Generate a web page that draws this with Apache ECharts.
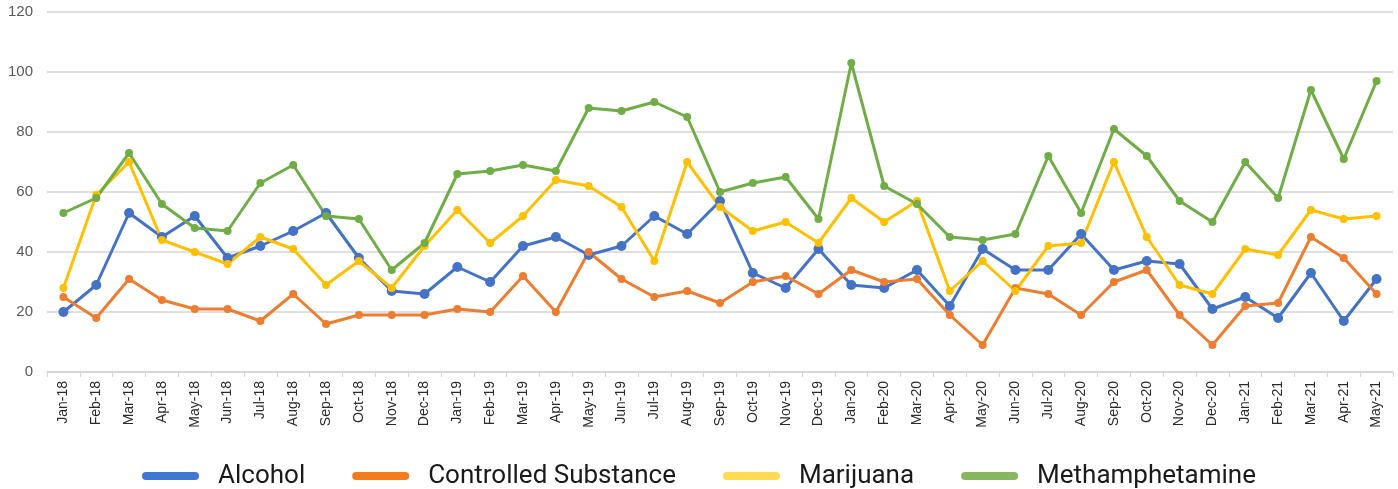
<!DOCTYPE html>
<html>
<head>
<meta charset="utf-8">
<script src="https://cdn.jsdelivr.net/npm/echarts@6/dist/echarts.min.js"></script>
<style>
  html, body { margin: 0; padding: 0; background: #ffffff; }
  #chart { width: 1398px; height: 489px; }
</style>
</head>
<body>
<div id="chart"></div>
<script>
// Monthly counts by substance, Jan 2018 – May 2021
const months = [
  'Jan-18','Feb-18','Mar-18','Apr-18','May-18','Jun-18','Jul-18','Aug-18','Sep-18','Oct-18','Nov-18','Dec-18',
  'Jan-19','Feb-19','Mar-19','Apr-19','May-19','Jun-19','Jul-19','Aug-19','Sep-19','Oct-19','Nov-19','Dec-19',
  'Jan-20','Feb-20','Mar-20','Apr-20','May-20','Jun-20','Jul-20','Aug-20','Sep-20','Oct-20','Nov-20','Dec-20',
  'Jan-21','Feb-21','Mar-21','Apr-21','May-21'
];

const alcohol = [
  20, 29, 53, 45, 52, 38, 42, 47, 53, 38, 27, 26,
  35, 30, 42, 45, 39, 42, 52, 46, 57, 33, 28, 41,
  29, 28, 34, 22, 41, 34, 34, 46, 34, 37, 36, 21,
  25, 18, 33, 17, 31
];

const controlledSubstance = [
  25, 18, 31, 24, 21, 21, 17, 26, 16, 19, 19, 19,
  21, 20, 32, 20, 40, 31, 25, 27, 23, 30, 32, 26,
  34, 30, 31, 19, 9, 28, 26, 19, 30, 34, 19, 9,
  22, 23, 45, 38, 26
];

const marijuana = [
  28, 59, 70, 44, 40, 36, 45, 41, 29, 37, 28, 42,
  54, 43, 52, 64, 62, 55, 37, 70, 55, 47, 50, 43,
  58, 50, 57, 27, 37, 27, 42, 43, 70, 45, 29, 26,
  41, 39, 54, 51, 52
];

const methamphetamine = [
  53, 58, 73, 56, 48, 47, 63, 69, 52, 51, 34, 43,
  66, 67, 69, 67, 88, 87, 90, 85, 60, 63, 65, 51,
  103, 62, 56, 45, 44, 46, 72, 53, 81, 72, 57, 50,
  70, 58, 94, 71, 97
];

const yTicks = { min: 0, max: 120, step: 20 };

const seriesDefs = [
  { name: 'Alcohol', data: alcohol, color: '#4472C4', key: '#3f78d2', size: 10 },
  { name: 'Controlled Substance', data: controlledSubstance, color: '#ED7D31', key: '#f47b1e', size: 8 },
  { name: 'Marijuana', data: marijuana, color: '#FFC000', key: '#ffda52', size: 8 },
  { name: 'Methamphetamine', data: methamphetamine, color: '#70AD47', key: '#86b65d', size: 8 }
];

const pill = 'path://M4,0 L53,0 A4,4 0 0 1 53,8 L4,8 A4,4 0 0 1 4,0 Z';

const chart = echarts.init(document.getElementById('chart'), null, { renderer: 'canvas' });

chart.setOption({
  animation: false,
  backgroundColor: '#ffffff',
  grid: { left: 47, right: 5, top: 12, bottom: 117, containLabel: false },
  legend: {
    left: 'center',
    top: 458,
    itemWidth: 57,
    itemHeight: 8,
    itemGap: 47,
    icon: pill,
    textStyle: {
      fontFamily: 'Roboto',
      fontSize: 26,
      color: '#1a1a1a',
      padding: [0, 0, 0, 14]
    },
    data: seriesDefs.map(s => ({ name: s.name, itemStyle: { color: s.key } }))
  },
  xAxis: {
    type: 'category',
    data: months,
    boundaryGap: true,
    axisLine: { show: true, lineStyle: { color: '#d4d4d4', width: 1.5 } },
    axisTick: { show: true, length: 5, lineStyle: { color: '#d4d4d4', width: 1 } },
    axisLabel: {
      rotate: 90,
      interval: 0,
      margin: 9,
      fontFamily: 'Liberation Sans',
      fontSize: 14,
      color: '#2a2a2a'
    },
    splitLine: { show: false }
  },
  yAxis: {
    type: 'value',
    min: yTicks.min,
    max: yTicks.max,
    interval: yTicks.step,
    axisLine: { show: false },
    axisTick: { show: false },
    axisLabel: {
      margin: 14,
      fontFamily: 'Liberation Sans',
      fontSize: 15,
      color: '#595959'
    },
    splitLine: { show: true, lineStyle: { color: '#e0e0e0', width: 2 } }
  },
  series: seriesDefs.map(s => ({
    name: s.name,
    type: 'line',
    data: s.data,
    symbol: 'circle',
    symbolSize: s.size,
    showSymbol: true,
    lineStyle: { color: s.color, width: 3 },
    itemStyle: { color: s.color, borderWidth: 0 },
    emphasis: { disabled: true }
  }))
});
</script>
</body>
</html>
